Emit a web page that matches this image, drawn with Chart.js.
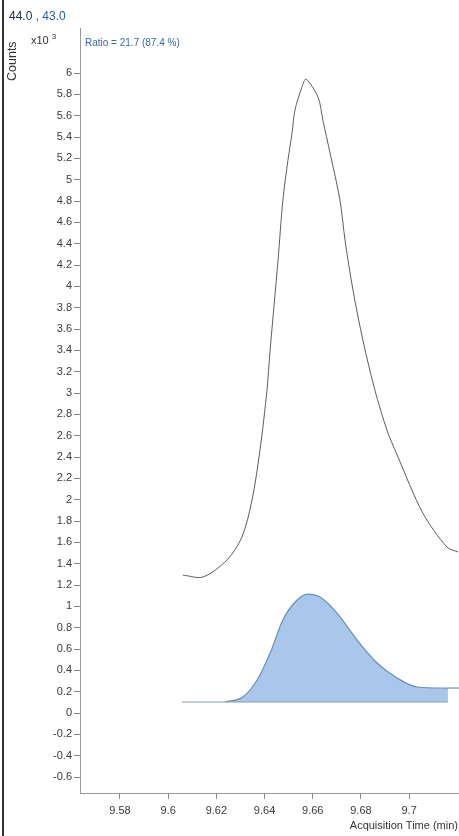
<!DOCTYPE html>
<html><head><meta charset="utf-8">
<script src="https://cdn.jsdelivr.net/npm/chart.js@4.4.0/dist/chart.umd.min.js"></script>
<style>
html,body{margin:0;padding:0;background:#fff;}
#wrap{position:relative;width:459px;height:836px;overflow:hidden;font-family:"Liberation Sans",Arial,sans-serif;}
#c{position:absolute;left:0;top:0;}
.t{position:absolute;white-space:nowrap;}
#border{position:absolute;left:2px;top:0;width:2px;height:836px;background:#333;}
</style></head>
<body><div id="wrap">
<canvas id="c" width="459" height="836"></canvas>
<div id="border"></div>
<div class="t" style="left:9px;top:9px;font-size:12px;color:#1e2a44;">44.0 <span style="color:#2c5c9c">, 43.0</span></div>
<div class="t" style="left:5px;top:81px;font-size:12.5px;color:#333;transform:rotate(-90deg);transform-origin:0 0;">Counts</div>
<div class="t" style="left:31px;top:34px;font-size:11px;color:#333;">x10 <span style="font-size:8px;position:relative;top:-5px;">3</span></div>
<div class="t" style="left:85px;top:37px;font-size:10px;color:#3b68a8;">Ratio = 21.7 (87.4 %)</div>
<div class="t" style="right:1px;top:819px;font-size:11px;color:#333;">Acquisition Time (min)</div>
</div>
<script>
// Quant trace 44.0 (black)
const trace44X = [9.6061,9.6144,9.6244,9.6306,9.6348,9.6381,9.6410,9.6423,9.6456,9.6476,9.6497,9.6514,9.6526,9.6555,9.6572,9.6622,9.6642,9.6672,9.6713,9.6734,9.6767,9.6808,9.6858,9.6908,9.6950,9.7057,9.7157,9.7203];
const trace44Y = [1.293,1.275,1.434,1.649,1.996,2.465,3.027,3.402,4.246,4.808,5.183,5.436,5.651,5.867,5.942,5.773,5.558,5.248,4.808,4.433,3.964,3.496,3.027,2.652,2.420,1.874,1.556,1.509];
// Qualifier trace 43.0 (blue, filled)
const trace43X = [9.6236,9.6310,9.6369,9.6423,9.6476,9.6535,9.6580,9.6630,9.6701,9.6784,9.6867,9.6950,9.7033,9.7161];
const trace43Y = [0.103,0.150,0.309,0.562,0.872,1.059,1.115,1.087,0.937,0.684,0.469,0.328,0.244,0.234];
const baseline43X = [9.6057,9.7161];
const baseline43Y = [0.103,0.103];
const tail43X = [9.7161,9.7207];
const tail43Y = [0.234,0.234];
const xTicks = [9.58,9.60,9.62,9.64,9.66,9.68,9.70];
const xTickLabels = ['9.58','9.6','9.62','9.64','9.66','9.68','9.7'];
const yTicks = [-0.6,-0.4,-0.2,0,0.2,0.4,0.6,0.8,1,1.2,1.4,1.6,1.8,2,2.2,2.4,2.6,2.8,3,3.2,3.4,3.6,3.8,4,4.2,4.4,4.6,4.8,5,5.2,5.4,5.6,5.8,6];
const yTickLabels = ['-0.6','-0.4','-0.2','0','0.2','0.4','0.6','0.8','1','1.2','1.4','1.6','1.8','2','2.2','2.4','2.6','2.8','3','3.2','3.4','3.6','3.8','4','4.2','4.4','4.6','4.8','5','5.2','5.4','5.6','5.8','6'];

const pts = (xs,ys)=>xs.map((x,i)=>({x:x,y:ys[i]}));

new Chart(document.getElementById('c'),{
  type:'line',
  data:{datasets:[
    {data:pts(baseline43X,baseline43Y),borderColor:'#8c99ab',borderWidth:1,pointRadius:0,fill:false},
    {data:pts(trace43X,trace43Y),borderColor:'#6d8db8',backgroundColor:'#a9c7ea',borderWidth:1.2,pointRadius:0,tension:0.4,cubicInterpolationMode:'monotone',fill:{value:0.103}},
    {data:pts(tail43X,tail43Y),borderColor:'#6d8db8',borderWidth:1.2,pointRadius:0,fill:false},
    {data:pts(trace44X,trace44Y),borderColor:'#5c5c5c',borderWidth:1,pointRadius:0,tension:0.3,fill:false}
  ]},
  options:{
    responsive:false,animation:false,
    layout:{padding:{top:28,right:0,left:0,bottom:0}},
    plugins:{legend:{display:false},tooltip:{enabled:false}},
    scales:{
      x:{type:'linear',min:9.5634,max:9.7207,
        afterBuildTicks:s=>{s.ticks=xTicks.map(v=>({value:v}));},
        afterFit:s=>{s.height=43;},
        ticks:{callback:(v,i)=>xTickLabels[i],color:'#3a3a3a',font:{family:'"Liberation Sans", Arial, sans-serif',size:11},padding:5,maxRotation:0,autoSkip:false},
        grid:{drawOnChartArea:false,drawTicks:true,tickLength:6,color:'#888'},
        border:{color:'#999',width:1}},
      y:{type:'linear',min:-0.75,max:6.422,
        afterBuildTicks:s=>{s.ticks=yTicks.map(v=>({value:v}));},
        afterFit:s=>{s.width=80;},
        ticks:{callback:(v,i)=>yTickLabels[i],color:'#3a3a3a',font:{family:'"Liberation Sans", Arial, sans-serif',size:11},padding:2,autoSkip:false},
        grid:{drawOnChartArea:false,drawTicks:true,tickLength:6,color:'#888'},
        border:{color:'#999',width:1}}
    }
  }
});
</script>
</body></html>
